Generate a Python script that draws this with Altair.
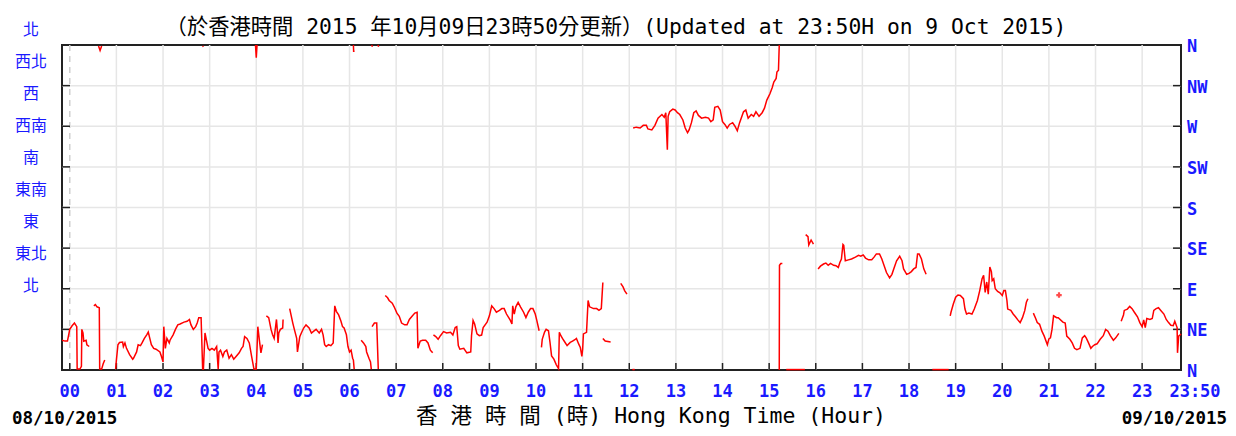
import altair as alt
import pandas as pd

# ---------------- data: wind direction (deg) vs minutes after 00:00 HKT, 9 Oct 2015
s01_min = [-10, -6, -3, 0, 3, 6, 9, 9.5, 13, 15, 15.5, 17, 18, 21, 22, 25]
s01_deg = [33, 32, 32, 45, 49, 52, 48, 1, 1, 4, 45, 41, 32, 33, 28, 26]
s02_min = [31, 33, 35, 38, 38.5, 41, 43, 45]
s02_deg = [71, 72.5, 70, 69, 1, 1, 7, 11]
s03_min = [59, 60, 62, 64, 68, 69, 71, 73, 77, 81, 82, 86, 88, 91, 93, 96, 99, 101, 103, 105,
           108, 111, 116, 118, 120, 121, 123, 125, 128, 129, 133, 136, 139, 142, 147, 151, 154,
           156, 159, 162, 164, 166, 169, 171,
           172, 174, 178, 180, 183, 186, 189, 191, 192, 194, 197, 199, 202, 205, 208, 211, 214,
           218, 221, 223, 225, 228, 231, 234, 237, 238, 240, 242, 244, 246, 248]
s03_deg = [1, 11, 28, 30.5, 31, 26, 30, 24, 17, 12, 13, 20, 28, 27, 30, 35, 39, 42, 35, 28,
           24, 23, 20, 15, 9, 48, 24, 35, 30, 33, 39, 45, 50, 51, 53, 54, 56,
           50, 45, 48, 52, 58, 58, 1,
           1, 41, 24, 22, 24, 22, 26, 1, 20, 22, 15, 20, 22, 13, 17, 12, 15,
           19, 24, 26, 37, 35, 30, 15, 1, 1, 1, 48, 33, 19, 28]
s05_min = [253, 256, 259, 261, 263, 266, 267, 268, 269, 271, 274, 274.5]
s05_deg = [60, 58, 45, 39, 35, 56, 45, 30, 41, 45, 46.5, 56]
s06_min = [283, 285, 287, 289, 292, 293, 296, 298, 301, 304, 308, 311, 314, 317, 321, 324, 326,
           328, 330, 333, 336, 339, 341, 343, 346, 349, 351, 353, 356, 358, 360, 362, 364, 365, 366]
s06_deg = [68, 60, 52, 45, 35, 20, 37, 41, 46.5, 50, 46.5, 41, 43, 45, 41, 45, 39,
           28, 26, 28, 27, 30, 71, 65, 61, 54, 48, 46.5, 39, 26, 20, 22, 13, 11, 1]
s07_min = [375, 378, 381, 382, 385, 387, 388]
s07_deg = [33, 30, 26, 20, 13, 9, 1]
s08_min = [389, 392, 395, 397]
s08_deg = [48, 52, 52, 1]
s09_min = [406, 409, 411, 415, 418, 421, 424, 427, 431, 434, 437, 441, 444, 447, 448, 451, 454,
           458, 461, 464, 467]
s09_deg = [82.5, 80, 77, 74, 69, 63, 59.5, 52, 50, 50, 56, 60, 63, 64, 24, 32, 33,
           33, 30, 22, 19]
s10_min = [468, 471, 474, 477, 481, 485, 490, 493, 496, 498, 500, 502, 507, 511, 516, 517, 519,
           521, 524, 527, 530, 532, 537, 540, 543, 546, 549, 553, 556, 559, 562, 567, 569, 570,
           572, 574, 577, 580, 584, 587, 590, 593, 596, 599, 601, 604]
s10_deg = [39, 37, 34, 38, 42.5, 41, 41.7, 38.7, 47, 48, 27, 23, 24, 19, 20, 38, 55,
           51, 40, 38, 38.7, 47, 53, 60, 71, 68, 64, 66, 68, 68, 62, 55, 51, 71,
           62, 70, 75, 70, 64, 58, 64, 68, 68, 62, 55, 43.5]
s11_min = [607, 608, 611, 613, 616, 618, 620, 623, 626, 629, 630, 632, 634, 637, 640, 644, 647,
           650, 652, 655, 657, 659, 660, 661, 665, 667, 669, 674, 678, 681, 684, 686]
s11_deg = [25, 34, 42, 45, 43.5, 30.5, 15.6, 12, 6, 1.5, 41.7, 38, 35, 31, 27, 30.5, 32,
           33.5, 35, 28.6, 25, 15, 23, 40, 41.7, 77, 70, 68, 68, 66, 68, 97]
s12_min = [686, 689, 696]
s12_deg = [35, 32, 31]
s13_min = [709, 712, 714, 717]
s13_deg = [96, 92, 88, 84]
s14_min = [724, 727]
s14_deg = [0.5, 0.5]
s15_min = [725, 729, 734, 738, 742, 744, 749, 753, 757, 762, 765, 767, 769, 770, 772, 776, 779,
           782, 785, 789, 792, 795, 797, 800, 803, 806, 809, 813, 818, 822, 825, 828, 830, 834,
           837, 840, 843, 846, 849, 853, 856, 859, 862, 867, 870, 873, 877, 880, 883, 887, 891,
           894, 897, 901, 904, 906, 909, 910, 912, 913]
s15_deg = [268, 269, 268, 271, 271, 267, 266, 271, 279, 283, 280, 285, 244, 281, 286, 289, 288,
           285, 283, 277, 268, 263, 266, 274, 285, 287, 282, 279, 280, 279, 275, 277, 291, 292,
           288, 275, 272, 268, 272, 274, 270, 265, 274, 286, 288, 279, 283, 281, 286, 281, 285,
           290, 299, 306, 313, 319, 323, 330, 332, 360]
s16_min = [913, 913.3, 915, 917]
s16_deg = [0, 116, 118, 118]
s17_min = [922, 946]
s17_deg = [0.5, 0.5]
s18_min = [947, 950, 951, 954, 957]
s18_deg = [150, 147.7, 138.5, 144, 139.5]
s19_min = [963, 966, 970, 973, 976, 979, 983, 986, 989, 991, 993, 995, 996, 998, 1002, 1006,
           1011, 1015, 1018, 1021, 1024, 1028, 1032, 1035, 1038, 1042, 1045, 1048, 1051, 1055,
           1058, 1061, 1064, 1068, 1071, 1073, 1077, 1080, 1083, 1086, 1089, 1091, 1093, 1096,
           1099, 1102]
s19_deg = [112, 115, 117.4, 118.5, 116, 118, 116, 115.5, 113.6, 119, 123, 139, 138, 121, 122, 123,
           125, 127, 126, 127.5, 124, 122, 122, 125, 128.6, 128.6, 123, 115.5, 108, 102,
           106, 113.6, 121, 126, 121, 112, 106, 107, 109, 112, 113.6, 128.6, 128.6, 123,
           112, 106]
s20_min = [1110, 1131]
s20_deg = [0.5, 0.5]
s21_min = [1133, 1134, 1137, 1140, 1143, 1146, 1150, 1152, 1154, 1157, 1161, 1164, 1168, 1171,
           1174, 1176, 1178, 1180, 1182, 1184, 1186, 1187, 1189, 1191, 1194, 1197, 1200, 1202,
           1204, 1206, 1207, 1211, 1214, 1217, 1220, 1223, 1226, 1229, 1231, 1233]
s21_deg = [60, 64, 73, 80.6, 83, 82.5, 79, 67.5, 62, 63, 62, 67.5, 77, 88,
           101, 105, 86, 97.5, 84, 114, 109, 99, 101, 90, 87, 85.5, 82.5, 88,
           88, 77, 67.5, 66, 62, 59, 55.5, 52.5, 58, 66, 75, 79]
s22_min = [1240, 1243, 1245, 1248, 1251, 1254, 1258, 1260, 1262, 1264, 1266, 1268, 1270, 1272,
           1278, 1281, 1283, 1287, 1290, 1293, 1296, 1300, 1303, 1306, 1308, 1311, 1314, 1316,
           1319, 1322, 1326, 1330, 1333, 1336, 1339, 1343, 1346, 1350]
s22_deg = [63, 57, 52.5, 50.6, 43, 37.5, 28, 34.5, 35.6, 45, 60, 59, 58, 58,
           53, 52, 37.5, 34, 30, 24, 22.5, 24, 35.6, 38, 35.6, 30, 24, 26,
           28, 29, 34, 38, 45, 43, 38, 33, 35.6, 40.5]
s23_min = [1353, 1356, 1357, 1361, 1364, 1367, 1370, 1374, 1377, 1380, 1382, 1384, 1386, 1390,
           1393, 1395, 1398, 1401, 1404, 1408, 1411, 1414, 1417, 1420, 1422, 1425, 1425.5, 1427,
           1429, 1430]
s23_deg = [54, 61, 66, 67.5, 70.5, 68, 64, 59, 52.5, 48, 55.5, 47, 57, 56,
           57, 66, 68, 69, 66, 62, 56, 52.5, 49.5, 49, 54, 47, 19, 37.5,
           39, 40]
# pieces drawn at the top edge where the direction wraps past north
w1_min, w1_deg = [37, 39, 41], [359, 354, 359]
w2_min, w2_deg = [171, 172], [359, 358]
w3_min, w3_deg = [239, 240, 241], [360, 346, 360]
w4_min, w4_deg = [365, 365.3, 366.5], [360, 353, 353]
w5_min, w5_deg = [388.5, 389.5], [360, 358]
w6_min, w6_deg = [396.5, 397.5], [360, 358]
# isolated readings
pt_min = [1273]
pt_deg = [83]

segments = [
    (s01_min, s01_deg), (s02_min, s02_deg), (s03_min, s03_deg), (s05_min, s05_deg),
    (s06_min, s06_deg), (s07_min, s07_deg), (s08_min, s08_deg), (s09_min, s09_deg),
    (s10_min, s10_deg), (s11_min, s11_deg), (s12_min, s12_deg), (s13_min, s13_deg),
    (s14_min, s14_deg), (s15_min, s15_deg), (s16_min, s16_deg), (s17_min, s17_deg),
    (s18_min, s18_deg), (s19_min, s19_deg), (s20_min, s20_deg), (s21_min, s21_deg),
    (s22_min, s22_deg), (s23_min, s23_deg),
    (w1_min, w1_deg), (w2_min, w2_deg), (w3_min, w3_deg), (w4_min, w4_deg),
    (w5_min, w5_deg), (w6_min, w6_deg),
]

hour_min = [h * 60 for h in range(24)]
hour_lab = [f"{h:02d}" for h in range(24)]
end_min = [1430]
end_lab = ["23:50"]
dir_deg = [0, 45, 90, 135, 180, 225, 270, 315, 360]
dir_en = ["N", "NE", "E", "SE", "S", "SW", "W", "NW", "N"]
dir_zh_top_down = ["北", "西北", "西", "西南", "南", "東南", "東", "東北", "北"]

title_text = "（於香港時間 2015 年10月09日23時50分更新）(Updated at 23:50H on 9 Oct 2015)"
xtitle_text = "香 港 時 間 (時)  Hong Kong Time (Hour)"
date_left = "08/10/2015"
date_right = "09/10/2015"

# ---------------- tables
rows = []
for k, (mm, dd) in enumerate(segments):
    for i, (m, d) in enumerate(zip(mm, dd)):
        rows.append({"seg": k, "i": i, "t": m, "deg": d})
line_df = pd.DataFrame(rows)
pt_df = pd.DataFrame({"t": pt_min, "deg": pt_deg})
vgrid_df = pd.DataFrame({"t": hour_min[1:]})
zero_df = pd.DataFrame({"t": hour_min[:1]})
hgrid_df = pd.DataFrame({"deg": dir_deg[1:-1]})
xlab_df = pd.DataFrame({"t": hour_min, "lab": hour_lab})
end_df = pd.DataFrame({"t": end_min, "lab": end_lab})
ylab_df = pd.DataFrame({"deg": dir_deg, "lab": dir_en})

# ---------------- layout / style
W, H = 1119, 325
BLUE = "#1a1aff"
MONO = "DejaVu Sans Mono"
MIXED = "DejaVu Sans Mono, Noto Sans CJK TC, monospace"
GRID = "#e6e6e6"

xs = alt.Scale(domain=[-10, 1430], nice=False, zero=False)
ys = alt.Scale(domain=[0, 360], nice=False, zero=False)
X = alt.X("t:Q", scale=xs, axis=None)
Y = alt.Y("deg:Q", scale=ys, axis=None)


def one():
    return alt.Chart(alt.Data(values=[{}]))


vgrid = alt.Chart(vgrid_df).mark_rule(color=GRID, strokeWidth=1.5).encode(
    x=X, y=alt.value(0), y2=alt.value(H))
zero = alt.Chart(zero_df).mark_rule(color="#d0d0d0", strokeWidth=1.5, strokeDash=[6, 5]).encode(
    x=X, y=alt.value(0), y2=alt.value(H))
hgrid = alt.Chart(hgrid_df).mark_rule(color=GRID, strokeWidth=1.5).encode(
    y=Y, x=alt.value(0), x2=alt.value(W))
btick = alt.Chart(xlab_df).mark_rule(color="#222", strokeWidth=1.5).encode(
    x=X, y=alt.value(H - 7), y2=alt.value(H))
ltick = alt.Chart(hgrid_df).mark_rule(color="#222", strokeWidth=1.5).encode(
    y=Y, x=alt.value(0), x2=alt.value(8))
rtick = alt.Chart(hgrid_df).mark_rule(color="#222", strokeWidth=1.5).encode(
    y=Y, x=alt.value(W - 8), x2=alt.value(W))

line = alt.Chart(line_df).mark_line(color="#ff0000", strokeWidth=1.5).encode(
    x=X, y=Y, detail="seg:N", order="i:Q")
pts = alt.Chart(pt_df).mark_point(shape="cross", filled=True, size=30, color="#ff0000").encode(
    x=X, y=Y)

xlab = alt.Chart(xlab_df).mark_text(font=MONO, fontWeight="bold", fontSize=17, color=BLUE,
                                    baseline="alphabetic", align="center").encode(
    x=X, y=alt.value(H + 27), text="lab:N")
endlab = alt.Chart(end_df).mark_text(font=MONO, fontWeight="bold", fontSize=17, color=BLUE,
                                     baseline="alphabetic", align="center", dx=14).encode(
    x=X, y=alt.value(H + 27), text="lab:N")
ylab = alt.Chart(ylab_df).mark_text(font=MONO, fontWeight="bold", fontSize=17, color=BLUE,
                                    baseline="middle", align="left", dy=2).encode(
    y=Y, x=alt.value(W + 6), text="lab:N")
zhlab = one().mark_text(font="Noto Sans CJK TC", fontSize=16, color=BLUE, baseline="alphabetic",
                        align="center", lineBreak="\n", lineHeight=32).encode(
    x=alt.value(-31), y=alt.value(-10), text=alt.value("\n".join(dir_zh_top_down)))

title = one().mark_text(font=MIXED, fontSize=21.3, color="#000", baseline="alphabetic",
                        align="center").encode(
    x=alt.value(554), y=alt.value(-11.5), text=alt.value(title_text))
xtitle = one().mark_text(font=MIXED, fontSize=21.5, color="#000", baseline="alphabetic",
                         align="center").encode(
    x=alt.value(589), y=alt.value(377.5), text=alt.value(xtitle_text))
dl = one().mark_text(font=MONO, fontWeight="bold", fontSize=17.5, color="#000",
                     baseline="alphabetic", align="left").encode(
    x=alt.value(-50), y=alt.value(379), text=alt.value(date_left))
dr = one().mark_text(font=MONO, fontWeight="bold", fontSize=17.5, color="#000",
                     baseline="alphabetic", align="right").encode(
    x=alt.value(1165), y=alt.value(379), text=alt.value(date_right))

chart = alt.layer(
    vgrid, zero, hgrid, btick, ltick, rtick, line, pts,
    xlab, endlab, ylab, zhlab, title, xtitle, dl, dr,
).properties(
    width=W, height=H,
    autosize=alt.AutoSizeParams(type="none"),
    padding={"left": 54, "top": 37, "right": 47, "bottom": 58},
    background="white",
).configure_view(stroke="#222", strokeWidth=2)

chart.save("out.html", embed_options={"renderer": "svg", "actions": False})
